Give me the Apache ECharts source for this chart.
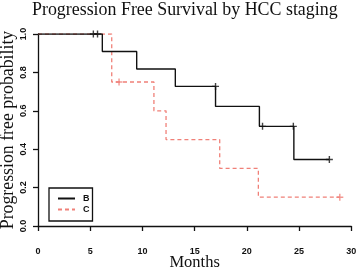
<!DOCTYPE html>
<html><head><meta charset="utf-8">
<script src="https://cdn.jsdelivr.net/npm/echarts@6/dist/echarts.min.js"></script>
<style>html,body{margin:0;padding:0;background:#fff}#c{width:358px;height:271px}</style>
</head><body><div id="c"></div>
<script>
const titleText = 'Progression Free Survival by HCC staging';
const xTitle = 'Months';
const yTitle = 'Progression free probability';
const groups = ['B', 'C'];
// Kaplan-Meier step points (time in months, survival probability)
const bTimes = [0, 6.16, 9.45, 13.15, 17.0, 21.2, 24.5, 27.9];
const bSurv  = [1, 0.909, 0.818, 0.727, 0.623, 0.519, 0.346, 0.346];
const cTimes = [0, 7.06, 11.1, 12.26, 17.4, 21.1, 28.9];
const cSurv  = [1, 0.75, 0.60, 0.45, 0.30, 0.15, 0.15];
// censor marks
const bCensorTimes = [5.3, 5.7, 17.0, 21.5, 24.45, 27.9];
const bCensorSurv  = [1, 1, 0.727, 0.519, 0.519, 0.346];
const cCensorTimes = [7.76, 28.9];
const cCensorSurv  = [0.75, 0.15];
const xTicks = [0, 5, 10, 15, 20, 25, 30];
const yTicks = [0, 0.2, 0.4, 0.6, 0.8, 1.0];

const zip = (a, b) => a.map((v, i) => [v, b[i]]);
const plus = 'path://M4,0H6V4H10V6H6V10H4V6H0V4H4Z';
const black = '#111111', red = '#f08078';

const chart = echarts.init(document.getElementById('c'), null, {renderer: 'canvas'});
chart.setOption({
  animation: false,
  backgroundColor: '#ffffff',
  title: {
    text: titleText, left: 32, top: 1, padding: 0,
    textStyle: {fontFamily: 'Liberation Serif', fontWeight: 'normal', fontSize: 17.9, color: '#111'}
  },
  grid: {left: 38, right: 6.7, top: 34, bottom: 45, containLabel: false, outerBoundsMode: 'none'},
  legend: {
    data: groups, orient: 'vertical', left: 49, top: 188,
    borderColor: '#111', borderWidth: 1.3, borderRadius: 0,
    padding: [6, 3, 7, 8], itemWidth: 17, itemHeight: 9, itemGap: 2,
    itemStyle: {opacity: 0},
    textStyle: {fontFamily: 'Liberation Sans', fontWeight: 'bold', fontSize: 9, color: '#111', padding: [0, 0, 0, 3]}
  },
  xAxis: {
    type: 'value', min: xTicks[0], max: xTicks[xTicks.length - 1], interval: 5, offset: 8,
    name: xTitle, nameLocation: 'middle', nameGap: 20, nameMoveOverlap: false,
    nameTextStyle: {fontFamily: 'Liberation Serif', fontSize: 16.5, color: '#111'},
    axisLine: {lineStyle: {color: '#111', width: 1.3}},
    axisTick: {inside: false, length: 5, lineStyle: {color: '#111', width: 1.3}},
    axisLabel: {margin: 13, fontFamily: 'Liberation Sans', fontWeight: 'bold', fontSize: 9, color: '#111'},
    splitLine: {show: false}
  },
  yAxis: {
    type: 'value', min: yTicks[0], max: yTicks[yTicks.length - 1], interval: 0.2,
    name: yTitle, nameLocation: 'middle', nameGap: 21, nameMoveOverlap: false,
    nameTextStyle: {fontFamily: 'Liberation Serif', fontSize: 17.8, color: '#111'},
    axisLine: {show: true, lineStyle: {color: '#111', width: 1.3}},
    axisTick: {show: true, length: 5, lineStyle: {color: '#111', width: 1.3}},
    axisLabel: {rotate: 90, margin: 10, fontFamily: 'Liberation Sans', fontWeight: 'bold', fontSize: 9, color: '#111',
      formatter: v => v.toFixed(1)},
    splitLine: {show: false}
  },
  series: [
    {name: 'C', type: 'line', step: 'end', symbol: 'none', data: zip(cTimes, cSurv),
     lineStyle: {color: red, width: 1.3, type: [4, 3]}, itemStyle: {color: red}, z: 2},
    {name: 'B', type: 'line', step: 'end', symbol: 'none', data: zip(bTimes, bSurv),
     lineStyle: {color: black, width: 1.4}, itemStyle: {color: black}, z: 3},
    {name: 'B censored', type: 'scatter', symbol: plus, symbolSize: 7, data: zip(bCensorTimes, bCensorSurv),
     itemStyle: {color: black}, z: 4},
    {name: 'C censored', type: 'scatter', symbol: plus, symbolSize: 7, data: zip(cCensorTimes, cCensorSurv),
     itemStyle: {color: red}, z: 4}
  ]
});
</script></body></html>
